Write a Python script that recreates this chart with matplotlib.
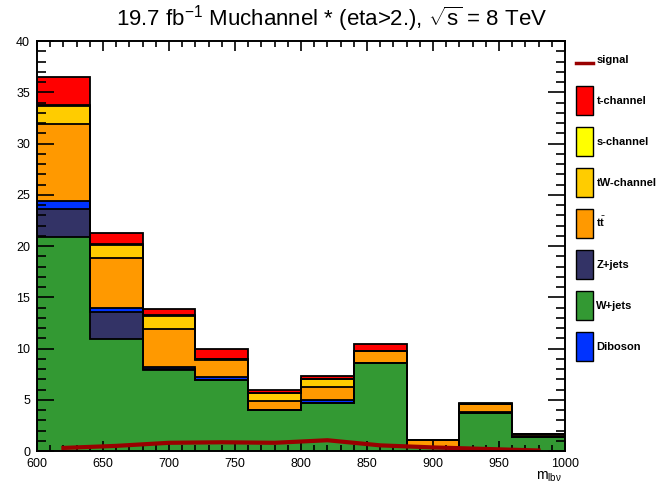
import matplotlib
matplotlib.use("Agg")
import matplotlib.pyplot as plt
from matplotlib.patches import Patch
from matplotlib.lines import Line2D
from matplotlib.legend_handler import HandlerLine2D
from matplotlib.ticker import MultipleLocator
import numpy as np

plt.rcParams['font.family'] = ['Liberation Sans', 'DejaVu Sans']
plt.rcParams['mathtext.fontset'] = 'custom'
plt.rcParams['mathtext.rm'] = 'Liberation Sans'
plt.rcParams['mathtext.it'] = 'Liberation Sans'

# bin edges of m_lbv
edges = [600, 640, 680, 720, 760, 800, 840, 880, 920, 960, 1000]

# per-bin yields, stacked bottom to top
wjets    = [20.9, 10.9, 7.9, 6.9, 4.0, 4.65, 8.55, 0.4, 3.7, 1.35]
zjets    = [2.7, 2.7, 0.1, 0.0, 0.0, 0.0, 0.0, 0.0, 0.0, 0.0]
diboson  = [0.8, 0.4, 0.2, 0.3, 0.0, 0.35, 0.0, 0.0, 0.15, 0.0]
ttbar    = [7.5, 4.8, 3.7, 1.7, 0.85, 1.2, 1.2, 0.65, 0.75, 0.2]
tw       = [1.8, 1.3, 1.3, 0.05, 0.85, 0.85, 0.05, 0.0, 0.0, 0.1]
schannel = [0.1, 0.1, 0.05, 0.0, 0.0, 0.0, 0.0, 0.0, 0.0, 0.0]
tchannel = [2.7, 1.1, 0.6, 1.0, 0.3, 0.3, 0.6, 0.05, 0.05, 0.05]

# signal at bin centres
signal = [0.3, 0.5, 0.8, 0.85, 0.8, 1.05, 0.55, 0.35, 0.2, 0.05]

stack = [
    ("W+jets", wjets, "#339933"),
    ("Z+jets", zjets, "#333366"),
    ("Diboson", diboson, "#0033ff"),
    ("t$\\bar{\\mathregular{t}}$", ttbar, "#ff9900"),
    ("tW-channel", tw, "#ffcc00"),
    ("s-channel", schannel, "#ffff00"),
    ("t-channel", tchannel, "#ff0000"),
]


class LowLine(HandlerLine2D):
    # put the signal line level with its label
    def create_artists(self, legend, orig_handle, xdescent, ydescent,
                       width, height, fontsize, trans):
        arts = super().create_artists(legend, orig_handle, xdescent, ydescent,
                                      width, height, fontsize, trans)
        for a in arts:
            a.set_ydata(np.asarray(a.get_ydata()) - 6.5)
        return arts


fig = plt.figure(figsize=(6.64, 4.88), dpi=100)
ax = fig.add_axes([37 / 664, 1 - 451 / 488, 528 / 664, 410 / 488])

cum = np.zeros(len(wjets))
cums = []
for name, vals, col in stack:
    cum = cum + np.array(vals)
    cums.append((name, cum.copy(), col))

# draw from top of stack down so lower layers cover upper fills
for name, c, col in reversed(cums):
    ax.stairs(c, edges, baseline=0, fill=True, color=col, zorder=1)
for name, c, col in cums:
    ax.stairs(c, edges, baseline=0, fill=False, color="black", lw=1.3, zorder=2)

centres = [(a + b) / 2 for a, b in zip(edges[:-1], edges[1:])]
ax.plot(centres, signal, color="#990000", lw=3, zorder=3)

ax.set_xlim(600, 1000)
ax.set_ylim(0, 40)
ax.xaxis.set_major_locator(MultipleLocator(50))
ax.xaxis.set_minor_locator(MultipleLocator(10))
ax.yaxis.set_major_locator(MultipleLocator(5))
ax.yaxis.set_minor_locator(MultipleLocator(1))
ax.tick_params(axis="both", which="both", direction="in", top=True, right=True,
               labelsize=9, width=1.2)
ax.tick_params(axis="x", which="major", length=7.5, pad=5)
ax.tick_params(axis="x", which="minor", length=4)
ax.tick_params(axis="y", which="major", length=12.5, pad=5)
ax.tick_params(axis="y", which="minor", length=6.5)
for s in ax.spines.values():
    s.set_linewidth(1.4)
    s.set_zorder(5)

ax.set_xlabel("m$_{\\mathregular{lb\\nu}}$", fontsize=10)
ax.xaxis.set_label_coords(0.97, -0.045)

fig.text(0.5, 1 - 19 / 488,
         "19.7 fb$^{\\mathregular{-1}}$ Muchannel * (eta>2.), $\\sqrt{\\mathregular{s}}$ = 8 TeV",
         ha="center", va="center", fontsize=16)

sig_handle = Line2D([], [], color="#990000", lw=2.5)
handles = [sig_handle]
labels = ["signal"]
for name, c, col in reversed(cums):
    handles.append(Patch(facecolor=col, edgecolor="black", lw=1))
    labels.append(name)
order = [0, 1, 2, 3, 4, 6, 7, 5]  # signal, t, s, tW, tt, Z, W, Diboson
handles = [handles[i] for i in order]
labels = [labels[i] for i in order]
leg = fig.legend(handles, labels, loc="upper left", bbox_to_anchor=(572 / 664, 1 - 41 / 488),
                 frameon=False, prop={"weight": "bold", "size": 8},
                 handlelength=1.5, handleheight=3.6, labelspacing=1.1,
                 handletextpad=0.3, borderaxespad=0,
                 handler_map={sig_handle: LowLine()})

fig.savefig("out.png", dpi=100)
